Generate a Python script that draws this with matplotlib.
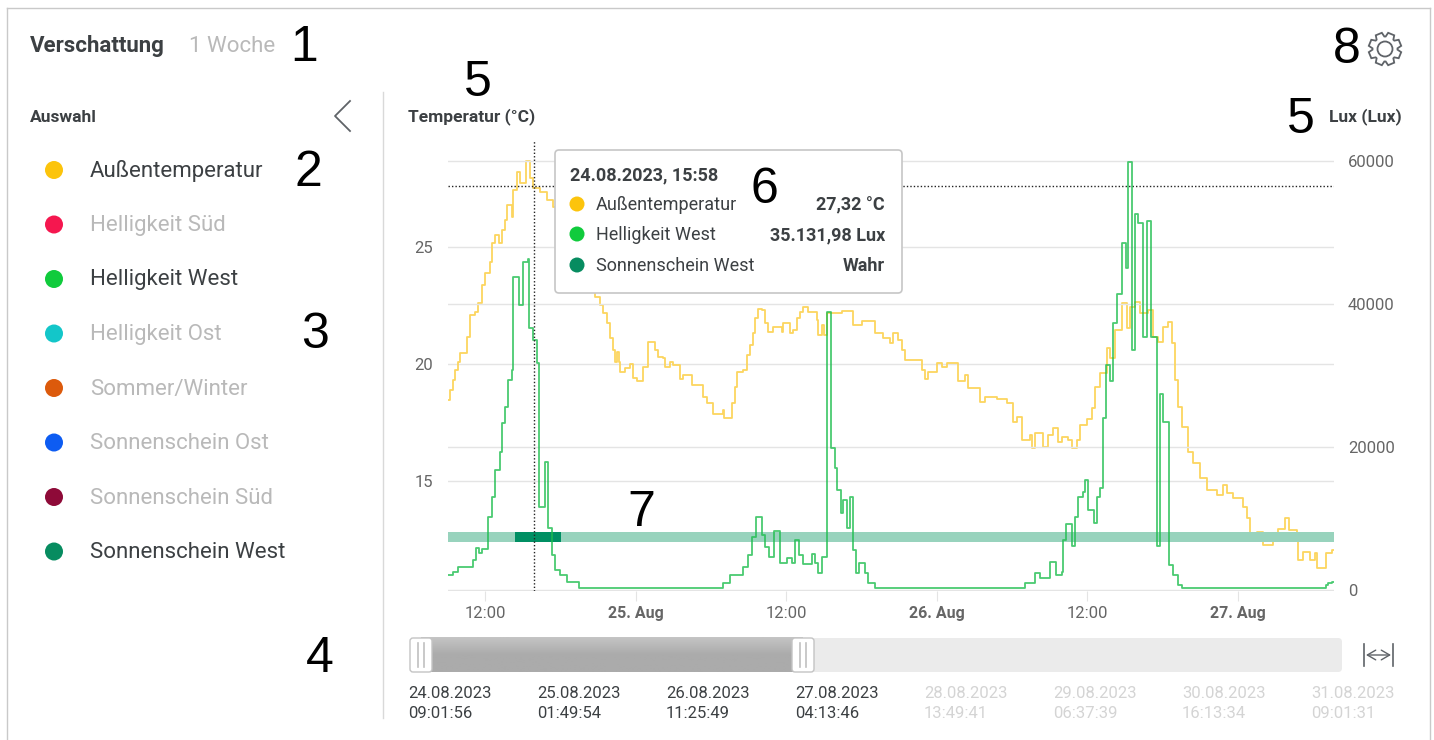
import numpy as np
import matplotlib
matplotlib.use('Agg')
import matplotlib.pyplot as plt
from matplotlib.patches import Circle, FancyBboxPatch, Polygon

plt.rcParams['font.family'] = ['Roboto', 'DejaVu Sans']

# Stunden seit 24.08.2023 00:00
temp_hours = [9.07, 9.21, 9.47, 9.61, 9.87, 10.0, 10.53, 10.8, 11.2, 11.46, 11.73, 12.0, 12.39, 12.53, 12.79, 13.14,
              13.32, 13.59, 13.72, 14.12, 14.25, 14.52, 14.78, 15.26, 15.58, 15.85, 16.38, 16.91, 17.44, 17.97, 18.77,
              19.56, 20.23, 20.76, 21.16, 21.42, 21.69, 21.96, 22.22, 22.35, 22.49, 22.7, 22.75, 23.15, 23.55, 23.81,
              24.08, 24.56, 25.01, 25.54, 25.81, 26.2, 26.34, 26.74, 27.0, 27.53, 27.8, 28.46, 29.39, 29.66, 30.19,
              30.99, 31.07, 31.65, 31.92, 32.05, 32.58, 32.85, 33.11, 33.38, 33.51, 33.78, 34.04, 34.31, 34.57, 34.97,
              35.64, 35.77, 36.3, 36.57, 36.83, 37.1, 37.36, 37.76, 38.43, 38.56, 38.82, 39.01, 39.22, 40.02, 40.42,
              41.29, 42.01, 43.07, 43.74, 44.27, 44.53, 44.93, 45.2, 45.46, 46.79, 47.06, 47.32, 47.99, 48.39, 48.78,
              49.71, 50.25, 50.51, 51.44, 51.84, 52.77, 53.57, 54.04, 54.36, 54.76, 55.43, 55.56, 55.83, 56.49, 56.89,
              57.29, 57.68, 57.95, 58.48, 58.75, 59.15, 59.41, 59.94, 60.34, 60.61, 61.0, 61.54, 61.8, 62.2, 62.73,
              63.13, 63.4, 63.79, 64.19, 64.86, 65.25, 65.65, 66.05, 66.45, 66.71, 66.98, 67.25, 67.51, 68.04, 68.44,
              68.97, 69.5, 70.3, 70.83, 71.1, 71.63, 72.43, 72.69, 72.96, 73.49, 74.02, 74.82, 75.22, 75.75, 76.09,
              76.67, 76.81, 77.21, 77.74, 78.14, 78.27, 79.01, 79.46, 79.65]
temp_values = [18.46, 18.89, 19.31, 19.74, 20.1, 20.45, 21.17, 22.09, 22.23, 22.59, 23.37, 23.87, 24.37, 25.15, 25.51, 25.15,
               25.72, 26.15, 26.79, 26.29, 27.43, 28.22, 27.72, 28.69, 27.93, 27.5, 27.36, 27.0, 26.72, 25.87, 24.87,
               24.0, 23.3, 22.87, 22.52, 22.16, 21.74, 21.1, 20.6, 20.1, 20.52, 20.1, 19.67, 19.81, 20.0, 19.39,
               19.29, 19.88, 20.95, 20.6, 20.31, 20.24, 19.88, 20.1, 19.96, 19.34, 19.53, 19.1, 18.6, 18.32, 17.85,
               18.03, 17.68, 18.32, 19.03, 19.67, 19.74, 20.38, 20.81, 21.31, 21.95, 22.33, 22.3, 21.74, 21.38, 21.59,
               21.38, 21.76, 21.31, 21.45, 21.95, 22.23, 22.45, 22.23, 21.88, 21.24, 21.66, 21.24, 22.16, 22.19, 22.26,
               21.66, 21.85, 21.31, 21.09, 20.88, 21.34, 21.02, 20.6, 20.17, 19.74, 19.34, 19.67, 20.03, 19.88, 20.03,
               19.29, 19.53, 18.96, 18.39, 18.57, 18.49, 18.32, 17.53, 17.75, 16.75, 16.96, 16.39, 17.03, 16.46, 16.96,
               17.25, 16.68, 16.89, 16.75, 16.39, 16.75, 17.39, 17.67, 18.1, 19.03, 19.6, 20.67, 20.24, 21.45, 22.59,
               21.52, 22.45, 22.66, 22.16, 22.3, 21.17, 20.95, 21.59, 21.81, 20.88, 19.31, 18.17, 17.32, 16.25, 15.75,
               15.11, 14.61, 14.4, 14.83, 14.47, 14.26, 13.9, 13.4, 12.76, 12.83, 12.26, 12.76, 12.97, 13.4, 12.9,
               12.48, 11.62, 11.98, 11.62, 11.91, 11.27, 11.91, 12.05, 12.05]

lux_hours = [9.07, 9.47, 9.87, 11.01, 11.28, 11.54, 11.73, 12.26, 12.53, 12.79, 13.19, 13.32, 13.59, 13.85, 14.12, 14.25,
             14.73, 15.05, 15.45, 15.53, 15.85, 16.11, 16.3, 16.78, 17.04, 17.31, 17.57, 17.97, 18.5, 19.51, 30.72,
             30.99, 31.52, 32.58, 32.98, 33.25, 33.59, 34.04, 34.31, 34.65, 35.03, 35.5, 36.04, 36.43, 36.7, 37.04,
             37.36, 38.03, 38.29, 38.56, 38.82, 39.22, 39.57, 39.89, 40.07, 40.34, 40.55, 40.87, 41.08, 41.29, 41.56,
             41.83, 42.28, 42.54, 43.07, 55.03, 55.83, 56.22, 57.02, 57.5, 57.95, 58.08, 58.3, 58.75, 59.01, 59.28,
             59.68, 59.81, 60.07, 60.53, 60.79, 61.0, 61.27, 61.48, 61.8, 62.07, 62.33, 62.78, 63.08, 63.26, 63.53,
             63.79, 64.06, 64.46, 64.72, 65.04, 65.52, 65.79, 66.05, 66.5, 66.85, 67.25, 67.51, 79.01, 79.2, 79.46, 79.65]
lux_values = [2170, 2640, 3240, 4270, 5900, 5200, 5760, 10330, 13120, 16850, 19420, 23380, 25710, 29440, 30840, 43900,
              39930, 45990, 46320, 36670, 35040, 31770, 11730, 18020, 8700, 4970, 2870, 2170, 1240, 300, 300,
              1000, 2170, 3240, 4970, 7530, 10330, 7760, 6130, 4640, 8370, 3800, 4500, 3800, 7060, 4970,
              3700, 5100, 3800, 2500, 4730, 38990, 19880, 17090, 14060, 10790, 12660, 8700, 13120, 5660, 2500,
              3800, 2400, 1100, 300, 1000, 2400, 1700, 4030, 2170, 2640, 7060, 9300, 6230, 10330, 13120,
              13820, 15450, 11260, 9400, 13120, 14290, 24080, 31540, 29350, 37370, 41470, 48550, 45060, 59980, 33640,
              52660, 51350, 35500, 51730, 35500, 6230, 27480, 23610, 3570, 2170, 770, 300, 770, 1000, 1240, 1240]

sun_true = (14.4, 18.05)
x_start, x_end = 9.05, 79.65
temp_ticks = [15, 20, 25]
lux_ticks = [0, 20000, 40000, 60000]
time_ticks = [12, 24, 36, 48, 60, 72]
time_labels = ['12:00', '25. Aug', '12:00', '26. Aug', '12:00', '27. Aug']
cross_hour, cross_temp = 15.93, 27.6

legend_names = ['Außentemperatur', 'Helligkeit Süd', 'Helligkeit West', 'Helligkeit Ost',
                'Sommer/Winter', 'Sonnenschein Ost', 'Sonnenschein Süd', 'Sonnenschein West']
legend_colors = ['#fcc40c', '#f5174f', '#10cb3c', '#13c6c9', '#dc5a0c', '#0d5cf2', '#8e0a38', '#078c60']
legend_active = [True, False, True, False, False, False, False, True]
tip_rows = [('Außentemperatur', '27,32 °C', '#fcc40c'), ('Helligkeit West', '35.131,98 Lux', '#10cb3c'),
            ('Sonnenschein West', 'Wahr', '#078c60')]
slider_dates = ['24.08.2023', '25.08.2023', '26.08.2023', '27.08.2023',
                '28.08.2023', '29.08.2023', '30.08.2023', '31.08.2023']
slider_times = ['09:01:56', '01:49:54', '11:25:49', '04:13:46',
                '13:49:41', '06:37:39', '16:13:34', '09:01:31']
marks = [('1', 304, 48), ('2', 308, 173), ('3', 315, 335), ('4', 320, 659), ('5', 478, 83),
         ('5', 1301, 120), ('6', 764, 190), ('7', 641, 513), ('8', 1347, 50)]

DARK = '#3c4043'
GREY = '#666666'
PALE = '#b9b9b9'
GRID = '#e4e4e4'


def draw_chart(fig):
    """Temperatur links, Lux rechts"""
    ax = fig.add_axes([448 / 1434, (740 - 591) / 740, 886 / 1434, 451 / 740])
    ax.patch.set_visible(False)
    ax.set_xlim(x_start, x_end)
    ax.set_ylim(10.3, 29.57)
    ax.set_yticks(temp_ticks)
    ax.set_xticks(time_ticks)
    ax.set_xticklabels(time_labels)
    ax.grid(True, axis='y', color=GRID, lw=1)
    ax.tick_params(axis='y', length=0, pad=11, labelsize=12, labelcolor=GREY)
    ax.tick_params(axis='x', length=7, width=0.8, color=GRID, pad=4, labelsize=12, labelcolor=GREY)
    for label in ax.get_xticklabels():
        if 'Aug' in label.get_text():
            label.set_fontweight('bold')
            label.set_fontsize(11.5)
    for s in ax.spines.values():
        s.set_visible(False)

    ax2 = ax.twinx()
    ax2.set_ylim(-70, 63000)
    ax2.set_yticks(lux_ticks)
    ax2.grid(True, axis='y', color=GRID, lw=1)
    ax2.tick_params(axis='y', length=0, pad=10, labelsize=12, labelcolor=GREY)
    for s in ax2.spines.values():
        s.set_visible(False)

    ax.step(temp_hours, temp_values, where='post', color='#fcd55f', lw=1.3, zorder=3)
    ax2.step(lux_hours, lux_values, where='post', color='#1dbd4e', lw=1.3, alpha=0.8, zorder=3)

    # Sonnenschein West als Balken
    ax2.broken_barh([(x_start, x_end - x_start)], (6780, 1400), color='#98d3bd', zorder=2, lw=0)
    ax2.broken_barh([(sun_true[0], sun_true[1] - sun_true[0])], (6780, 1400), color='#008f63', zorder=2.5, lw=0)

    ax2.axvline(cross_hour, color='#222222', lw=1, ls=(0, (1, 1.5)), zorder=4)
    ax.axhline(cross_temp, color='#222222', lw=1, ls=(0, (1, 1.5)), zorder=4)


def draw_gear(ui, cx, cy):
    angles = np.linspace(0, 2 * np.pi, 8, endpoint=False) + np.pi / 8
    pts = []
    for a in angles:
        for da, r in [(-0.34, 12.5), (-0.2, 16.5), (0.2, 16.5), (0.34, 12.5)]:
            pts.append((cx + r * np.cos(a + da), cy + r * np.sin(a + da)))
    ui.add_patch(Polygon(pts, closed=True, fc='none', ec='#5f6368', lw=1.3))
    ui.add_patch(Circle((cx, cy), 7.5, fc='none', ec='#5f6368', lw=1.3))


def draw_slider(ui):
    ui.add_patch(FancyBboxPatch((412, 638), 930, 34, boxstyle='round,pad=0,rounding_size=4',
                                fc='#ebebeb', ec='none'))
    shade = np.linspace(0, 1, 32).reshape(-1, 1)
    ui.imshow(shade, extent=(421, 803, 672, 637), cmap=matplotlib.colors.LinearSegmentedColormap.from_list(
        'slider', ['#c4c4c4', '#ababab', '#ababab']), aspect='auto', zorder=2)
    for x0 in [410, 792]:
        ui.add_patch(FancyBboxPatch((x0, 638), 22, 34, boxstyle='round,pad=0,rounding_size=3',
                                    fc='white', ec='#c4c4c4', lw=1, zorder=3))
        for dx in [8, 14]:
            ui.plot([x0 + dx, x0 + dx], [643, 667], color='#c0c0c0', lw=1.2, zorder=4)
    ui.plot([1364, 1364], [644, 666], color='#5f6368', lw=1.2)
    ui.plot([1393, 1393], [644, 666], color='#5f6368', lw=1.2)
    ui.annotate('', xy=(1366, 655), xytext=(1391, 655),
                arrowprops=dict(arrowstyle='<->,head_length=0.6,head_width=0.35', color='#5f6368', lw=1,
                                shrinkA=0, shrinkB=0))
    for i, (d, t) in enumerate(zip(slider_dates, slider_times)):
        x = 408 + i * 129
        c = DARK if i < 4 else '#d4d4d4'
        ui.text(x, 693, d, fontsize=12, color=c, va='center')
        ui.text(x, 714, t, fontsize=12, color=c, va='center')


def draw_tooltip(ui):
    ui.add_patch(FancyBboxPatch((555, 150), 347, 143, boxstyle='round,pad=0,rounding_size=4',
                                fc='white', ec='#c6c6c6', lw=1.2, zorder=6))
    ui.text(570, 175, '24.08.2023, 15:58', fontsize=13, fontweight='bold', color=DARK, va='center', zorder=7)
    for (name, val, col), y in zip(tip_rows, [205, 235, 266]):
        ui.add_patch(Circle((577, y - 1), 7.5, fc=col, ec='none', zorder=7))
        ui.text(596, y, name, fontsize=13, color=DARK, va='center', zorder=7)
        ui.text(885, y, val, fontsize=13, fontweight='bold', color=DARK, va='center', ha='right', zorder=7)


def draw_ui(fig):
    """Alles ausserhalb der Zeichenflaeche, in Pixeln"""
    ui = fig.add_axes([0, 0, 1, 1], zorder=5)
    ui.patch.set_visible(False)
    ui.axis('off')

    # Rahmen
    ui.plot([7, 7], [740, 8], color='#c9c9c9', lw=1)
    ui.plot([7, 1430], [8, 8], color='#c9c9c9', lw=1)
    ui.plot([1430, 1430], [8, 740], color='#c9c9c9', lw=1)
    ui.plot([383, 383], [92, 718], color='#d9d9d9', lw=1)

    ui.text(30, 46, 'Verschattung', fontsize=16, fontweight='bold', color=DARK, va='center')
    ui.text(189, 46, '1 Woche', fontsize=16, color=PALE, va='center')
    ui.text(30, 117, 'Auswahl', fontsize=12.5, fontweight='bold', color=DARK, va='center')
    ui.plot([350, 335, 350], [101, 116, 131], color='#5f6368', lw=1.3)
    ui.text(408, 117, 'Temperatur (°C)', fontsize=12.5, fontweight='bold', color=DARK, va='center')
    ui.text(1402, 117, 'Lux (Lux)', fontsize=12.5, fontweight='bold', color=DARK, va='center', ha='right')

    for i, name in enumerate(legend_names):
        y = 170 + i * 54.5
        ui.add_patch(Circle((54, y), 9, fc=legend_colors[i], ec='none'))
        ui.text(90, y + 1, name, fontsize=16, color=DARK if legend_active[i] else PALE, va='center')

    draw_gear(ui, 1385, 49)
    draw_slider(ui)
    draw_tooltip(ui)

    for txt, x, y in marks:
        ui.text(x, y, txt, fontsize=36, color='black', family='Liberation Sans',
                ha='center', va='center', zorder=8)

    ui.set_xlim(0, 1434)
    ui.set_ylim(740, 0)


def main():
    fig = plt.figure(figsize=(14.34, 7.4), dpi=100, facecolor='white')
    draw_chart(fig)
    draw_ui(fig)
    fig.savefig('out.png', dpi=100)
    plt.close(fig)


if __name__ == '__main__':
    main()
